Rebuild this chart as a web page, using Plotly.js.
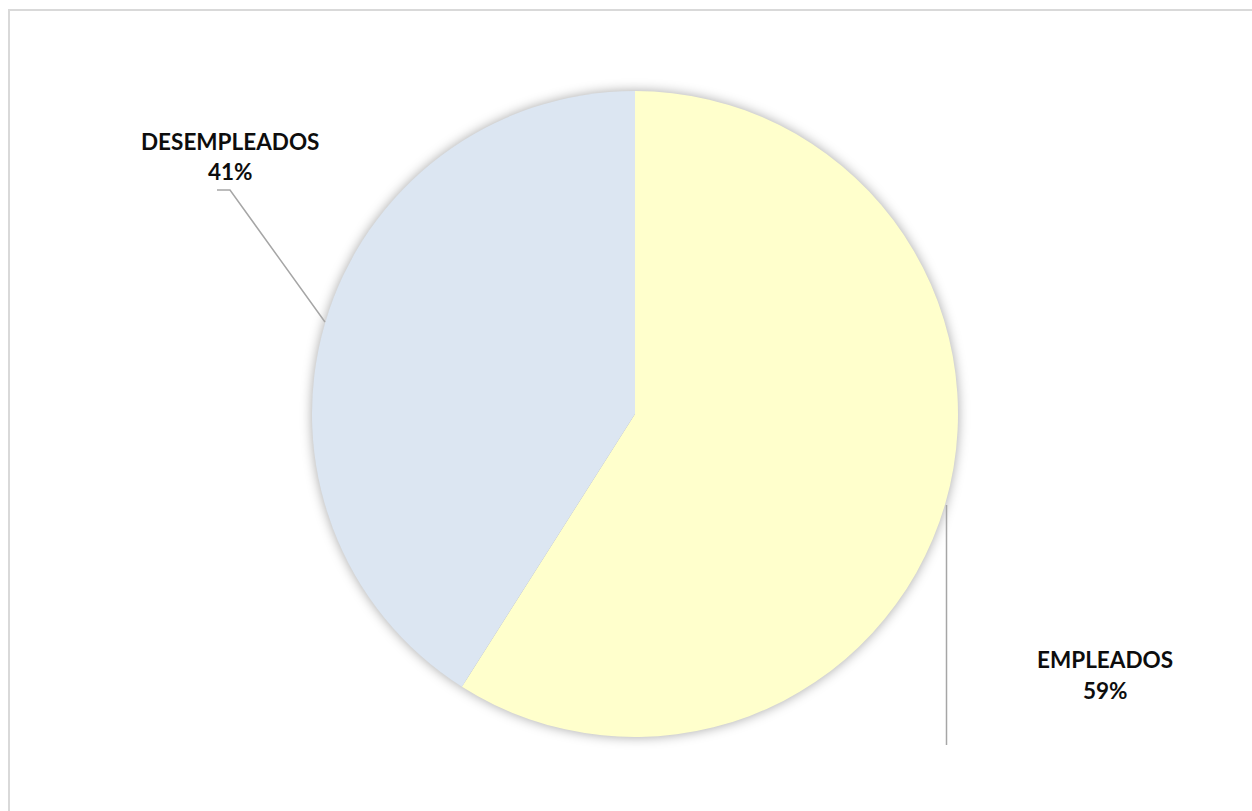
<!DOCTYPE html>
<html>
<head>
<meta charset="utf-8">
<script src="https://cdn.plot.ly/plotly-3.0.1.min.js"></script>
<style>
html,body{margin:0;padding:0;background:#fff;}
#chart{width:1252px;height:811px;}
#chart .pielayer{filter:drop-shadow(0px 0px 6px rgba(0,0,0,0.35));}
</style>
</head>
<body>
<div id="chart"></div>
<script>
const categories = ["EMPLEADOS", "DESEMPLEADOS"];
const values = [59, 41];
const colors = ["#FFFFCC", "#DCE6F2"];

const W = 1252, H = 811;
const px = x => x / W;
const py = y => (H - y) / H;

const total = values.reduce((a, b) => a + b, 0);
const pct = values.map(v => Math.round(v / total * 100) + "%");

const labelFont = {family: "Lato, 'Open Sans', sans-serif", size: 22.5, color: "#0d0d0d"};

// label anchor positions (pixels)
const labelPos = [[1105, 659], [230, 141]];
const lineGap = 31;

const annotations = [];
categories.forEach((c, i) => {
  annotations.push({xref: "paper", yref: "paper", x: px(labelPos[i][0]), y: py(labelPos[i][1]),
    text: "<b>" + c + "</b>", showarrow: false, font: labelFont, xanchor: "center", yanchor: "middle"});
  annotations.push({xref: "paper", yref: "paper", x: px(labelPos[i][0]), y: py(labelPos[i][1] + lineGap),
    text: "<b>" + pct[i] + "</b>", showarrow: false, font: labelFont, xanchor: "center", yanchor: "middle"});
});

const line = {color: "#a6a6a6", width: 1.5};
const shapes = [
  {type: "rect", xref: "paper", yref: "paper", x0: px(9), x1: 1.02, y0: -0.02, y1: py(10),
   line: {color: "#d9d9d9", width: 2}, fillcolor: "rgba(0,0,0,0)", layer: "below"},
  {type: "path", xref: "paper", yref: "paper",
   path: `M ${px(217)} ${py(190)} L ${px(230)} ${py(190)} L ${px(325)} ${py(322)}`, line: line},
  {type: "line", xref: "paper", yref: "paper", x0: px(946.5), x1: px(946.5), y0: py(505), y1: py(745), line: line}
];

const data = [{
  type: "pie",
  labels: categories,
  values: values,
  sort: false,
  direction: "clockwise",
  rotation: 0,
  marker: {colors: colors, line: {color: "rgba(0,0,0,0)", width: 0}},
  textinfo: "none",
  hoverinfo: "none",
  showlegend: false,
  domain: {x: [px(635 - 323), px(635 + 323)], y: [py(414 + 323), py(414 - 323)]}
}];

const layout = {
  width: W, height: H,
  margin: {l: 0, r: 0, t: 0, b: 0},
  paper_bgcolor: "#ffffff",
  showlegend: false,
  annotations: annotations,
  shapes: shapes
};

Plotly.newPlot("chart", data, layout, {displayModeBar: false, staticPlot: true});
</script>
</body>
</html>
